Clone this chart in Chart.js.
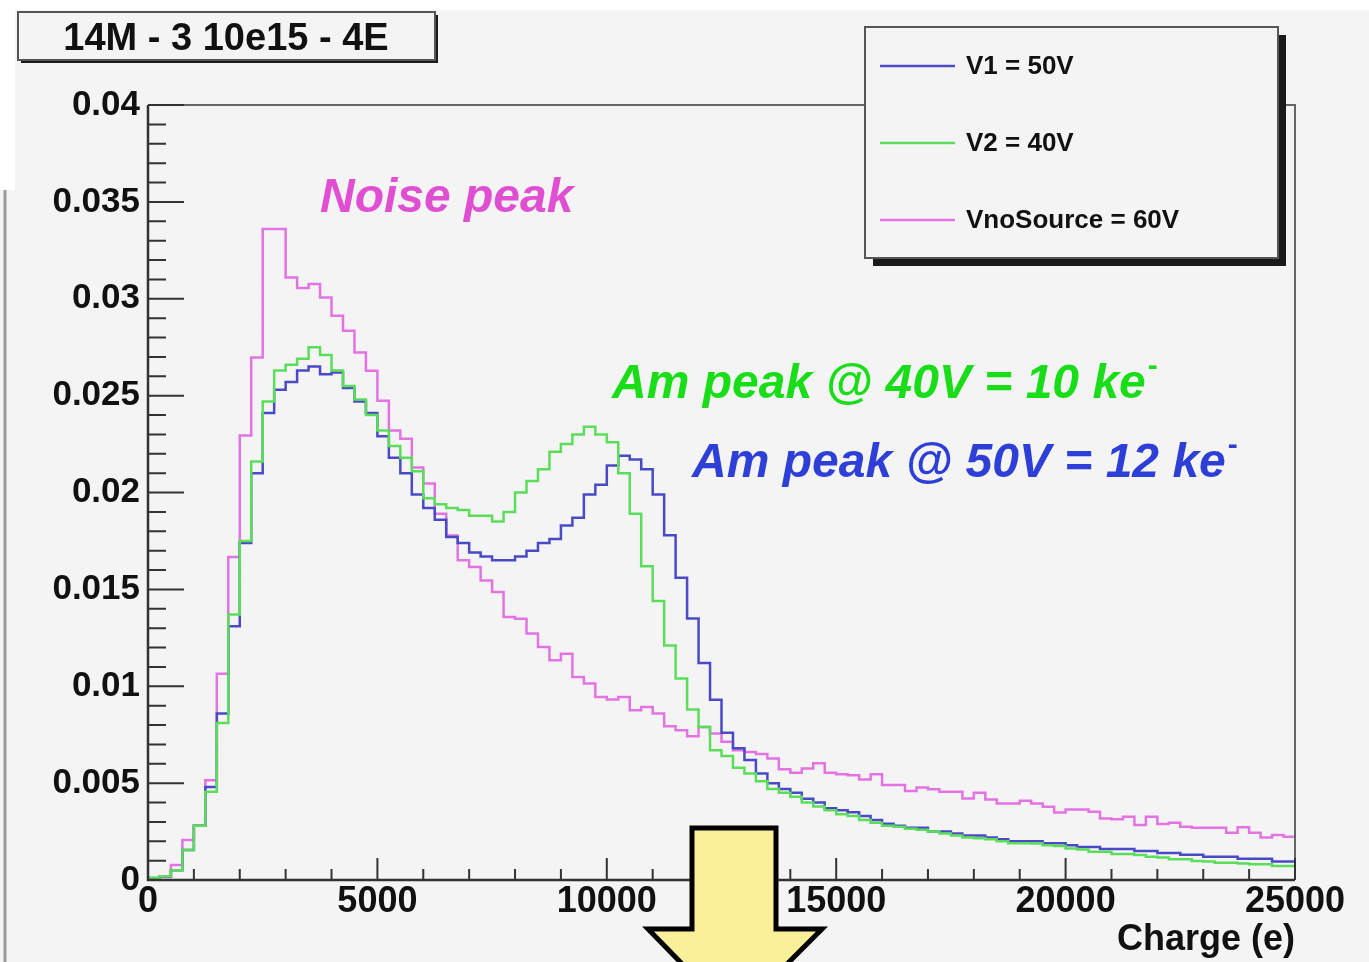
<!DOCTYPE html>
<html>
<head>
<meta charset="utf-8">
<title>14M - 3 10e15 - 4E</title>
<script src="https://cdn.jsdelivr.net/npm/chart.js@4/dist/chart.umd.min.js"></script>
<style>
  html, body { margin: 0; padding: 0; background: #f4f4f4; }
  #wrap { width: 1369px; height: 962px; position: relative; }
</style>
</head>
<body>
<div id="wrap"><canvas id="chargeChart"></canvas></div>
<script>
// Charge spectra, 100 bins of 250 e from 0 to 25000 e
const binWidth = 250;
const xRange = [0, 25000];
const yRange = [0, 0.04];

const seriesLabels = ['V1 = 50V', 'V2 = 40V', 'VnoSource = 60V'];

const v1Values = [
    0.0001, 0.0002, 0.0005, 0.00155, 0.0028, 0.0048, 0.0086, 0.0131, 0.0174, 0.0210,
    0.0241, 0.0253, 0.0257, 0.0263, 0.0265, 0.0261, 0.0262, 0.0254, 0.0247, 0.0241,
    0.0229, 0.0218, 0.0210, 0.0199, 0.0192, 0.0186, 0.0177, 0.0174, 0.0169, 0.0167,
    0.0165, 0.0165, 0.0167, 0.0170, 0.0174, 0.0176, 0.0183, 0.0187, 0.0199, 0.0204,
    0.0214, 0.0219, 0.0217, 0.0212, 0.0199, 0.0178, 0.0156, 0.0135, 0.0112, 0.0093,
    0.0076, 0.0068, 0.0062, 0.0055, 0.0050, 0.0047, 0.0045, 0.0042, 0.0040, 0.0037,
    0.0036, 0.0035, 0.0033, 0.0031, 0.0029, 0.0028, 0.0027, 0.0027, 0.0025, 0.0025,
    0.0024, 0.0023, 0.0023, 0.0022, 0.0021, 0.0020, 0.0020, 0.0020, 0.0019, 0.0019,
    0.0018, 0.0017, 0.0017, 0.0016, 0.0016, 0.0016, 0.0015, 0.0015, 0.0014, 0.0014,
    0.0013, 0.0013, 0.0012, 0.0012, 0.0012, 0.0011, 0.0011, 0.0011, 0.00095, 0.00095
];

const v2Values = [
    0.0001, 0.0002, 0.0005, 0.00155, 0.0028, 0.00455, 0.0081, 0.0137, 0.0175, 0.0216,
    0.0247, 0.0263, 0.0266, 0.0269, 0.0275, 0.0271, 0.0263, 0.0255, 0.0248, 0.0240,
    0.0232, 0.0224, 0.0218, 0.0211, 0.0197, 0.0194, 0.0192, 0.0191, 0.0188, 0.0188,
    0.0185, 0.0190, 0.0200, 0.0206, 0.0212, 0.0221, 0.0225, 0.0230, 0.0234, 0.0230,
    0.0226, 0.0210, 0.0189, 0.0162, 0.0144, 0.0121, 0.0104, 0.0088, 0.0079, 0.0067,
    0.0064, 0.0058, 0.0055, 0.0051, 0.0047, 0.0045, 0.0043, 0.0040, 0.0038, 0.0036,
    0.0034, 0.0033, 0.0031, 0.00295, 0.0028, 0.00275, 0.00265, 0.0026, 0.0025, 0.0024,
    0.0023, 0.0022, 0.00215, 0.0021, 0.0020, 0.0019, 0.0019, 0.00188, 0.0018, 0.00175,
    0.00163, 0.00157, 0.00146, 0.00146, 0.00134, 0.00134, 0.00129, 0.0012, 0.00116, 0.00107,
    0.00107, 0.00098, 0.00095, 0.00089, 0.00089, 0.00085, 0.00081, 0.00081, 0.00072, 0.00072
];

const noSourceValues = [
    0.0, 0.00015, 0.00077, 0.00206, 0.0028, 0.00515, 0.01065, 0.01667, 0.02294, 0.02697,
    0.0336, 0.0336, 0.0311, 0.03055, 0.03076, 0.03007, 0.02912, 0.02835, 0.02723, 0.02629,
    0.02474, 0.0232, 0.02278, 0.02129, 0.02046, 0.0189, 0.01778, 0.0165, 0.01615, 0.01546,
    0.01486, 0.01357, 0.01349, 0.01272, 0.01203, 0.01134, 0.01168, 0.01048, 0.01014, 0.00945,
    0.00931, 0.00945, 0.00876, 0.00893, 0.00859, 0.00794, 0.00773, 0.00742, 0.0079, 0.00756,
    0.00713, 0.0067, 0.00661, 0.0065, 0.00627, 0.00571, 0.00553, 0.00576, 0.00602, 0.00553,
    0.00546, 0.00541, 0.00519, 0.00546, 0.0049, 0.0049, 0.0046, 0.00478, 0.00468, 0.00455,
    0.00455, 0.00421, 0.0045, 0.00416, 0.00395, 0.00395, 0.00409, 0.00395, 0.00378, 0.00349,
    0.00364, 0.00364, 0.00352, 0.00318, 0.00313, 0.00326, 0.00284, 0.00326, 0.00289, 0.00295,
    0.00275, 0.0027, 0.0027, 0.0027, 0.00244, 0.00272, 0.00244, 0.0022, 0.00232, 0.00223
];

const FONT = '"Liberation Sans", Arial, Helvetica, sans-serif';

// histogram outline: one point per bin low edge, plus the closing edge
function histPoints(values) {
    const pts = values.map((v, i) => ({ x: i * binWidth, y: v }));
    pts.push({ x: values.length * binWidth, y: values[values.length - 1] });
    return pts;
}

function drawBox(c, x, y, w, h, shadow) {
    c.fillStyle = '#1a1a1a';
    c.fillRect(x + shadow, y + shadow, w, h);
    c.fillStyle = '#f4f4f4';
    c.fillRect(x, y, w, h);
    c.strokeStyle = '#555';
    c.lineWidth = 2;
    c.strokeRect(x, y, w, h);
}

function drawNote(c, text, x, y, color, withMinus) {
    c.font = 'italic bold 48px ' + FONT;
    c.fillStyle = color;
    c.textAlign = 'left';
    c.textBaseline = 'alphabetic';
    c.fillText(text, x, y);
    if (withMinus) {
        const w = c.measureText(text).width;
        c.font = 'bold 30px ' + FONT;
        c.fillText('-', x + w + 2, y - 23);
    }
}

const rootStyle = {
    id: 'rootStyle',
    beforeDraw(chart) {
        const c = chart.ctx;
        c.save();
        c.fillStyle = '#f4f4f4';
        c.fillRect(0, 0, chart.width, chart.height);
        c.fillStyle = '#ffffff';
        c.fillRect(0, 0, chart.width, 10);
        c.fillRect(0, 0, 15, 190);
        c.strokeStyle = '#9a9a9a';
        c.lineWidth = 3;
        c.beginPath();
        c.moveTo(5, 190);
        c.lineTo(5, chart.height);
        c.stroke();
        c.restore();
    },
    afterDatasetsDraw(chart) {
        const c = chart.ctx;
        const a = chart.chartArea;
        const x = chart.scales.x;
        const y = chart.scales.y;
        c.save();
        // frame
        c.strokeStyle = '#666';
        c.lineWidth = 2;
        c.beginPath();
        c.moveTo(a.left, a.top);
        c.lineTo(a.right, a.top);
        c.lineTo(a.right, a.bottom);
        c.stroke();
        c.strokeStyle = '#333';
        c.lineWidth = 2.5;
        c.beginPath();
        c.moveTo(a.left, a.top);
        c.lineTo(a.left, a.bottom);
        c.lineTo(a.right, a.bottom);
        c.stroke();
        // ROOT style ticks, pointing into the pad
        c.lineWidth = 2;
        c.beginPath();
        for (let k = 0; k <= 40; k++) {
            const py = y.getPixelForValue(k * 0.001);
            const len = k % 5 === 0 ? 36 : 18;
            c.moveTo(a.left, py);
            c.lineTo(a.left + len, py);
        }
        for (let k = 0; k <= 25; k++) {
            const px = x.getPixelForValue(k * 1000);
            const len = k % 5 === 0 ? 22 : 11;
            c.moveTo(px, a.bottom);
            c.lineTo(px, a.bottom - len);
        }
        c.stroke();
        c.restore();
    },
    afterDraw(chart) {
        const c = chart.ctx;
        c.save();

        // pad title
        drawBox(c, 18, 12, 417, 48, 3);
        c.fillStyle = '#111';
        c.font = 'bold 38px ' + FONT;
        c.textAlign = 'center';
        c.textBaseline = 'alphabetic';
        c.fillText('14M - 3 10e15 - 4E', 226, 50);

        // notes
        drawNote(c, 'Noise peak', 320, 212, '#e04ed2', false);
        drawNote(c, 'Am peak @ 40V = 10 ke', 612, 398, '#18dd18', true);
        drawNote(c, 'Am peak @ 50V = 12 ke', 692, 477, '#2d3fd6', true);

        // legend
        drawBox(c, 865, 27, 413, 231, 8);
        const rows = [66, 143, 220];
        chart.data.datasets.forEach((ds, i) => {
            c.strokeStyle = ds.borderColor;
            c.lineWidth = 2.5;
            c.beginPath();
            c.moveTo(880, rows[i]);
            c.lineTo(955, rows[i]);
            c.stroke();
            c.fillStyle = '#111';
            c.font = 'bold 26px ' + FONT;
            c.textAlign = 'left';
            c.textBaseline = 'middle';
            c.fillText(ds.label, 966, rows[i] + 1);
        });

        // yellow arrow
        c.beginPath();
        c.moveTo(692, 828);
        c.lineTo(776, 828);
        c.lineTo(776, 929);
        c.lineTo(822, 929);
        c.lineTo(734, 1017);
        c.lineTo(648, 929);
        c.lineTo(692, 929);
        c.closePath();
        c.fillStyle = '#faf09a';
        c.fill();
        c.strokeStyle = '#000';
        c.lineWidth = 5;
        c.lineJoin = 'miter';
        c.stroke();

        c.restore();
    }
};

document.addEventListener('DOMContentLoaded', function() {
    const chargeCtx = document.getElementById('chargeChart');

    new Chart(chargeCtx, {
        type: 'line',
        data: {
            datasets: [
                { label: seriesLabels[0], data: histPoints(v1Values), borderColor: '#4a4ac6', order: 1 },
                { label: seriesLabels[1], data: histPoints(v2Values), borderColor: '#5ade5a', order: 0 },
                { label: seriesLabels[2], data: histPoints(noSourceValues), borderColor: '#e373e3', order: 2 }
            ]
        },
        options: {
            responsive: true,
            maintainAspectRatio: false,
            animation: false,
            parsing: false,
            datasets: {
                line: {
                    stepped: 'before',
                    borderWidth: 2.5,
                    pointRadius: 0,
                    fill: false,
                    tension: 0
                }
            },
            layout: { padding: { left: 0, right: 74, top: 105, bottom: 0 } },
            plugins: {
                legend: { display: false },
                tooltip: { enabled: false },
                title: { display: false }
            },
            scales: {
                x: {
                    type: 'linear',
                    min: xRange[0],
                    max: xRange[1],
                    grid: { display: false, drawTicks: false },
                    border: { display: false },
                    ticks: {
                        stepSize: 5000,
                        maxRotation: 0,
                        autoSkip: false,
                        padding: 0,
                        color: '#111',
                        font: { family: FONT, size: 36, weight: 'bold' },
                        callback: v => String(v)
                    },
                    title: {
                        display: true,
                        text: 'Charge (e)',
                        align: 'end',
                        color: '#111',
                        padding: 0,
                        font: { family: FONT, size: 36, weight: 'bold' }
                    },
                    afterFit: s => { s.height = 82; }
                },
                y: {
                    min: yRange[0],
                    max: yRange[1],
                    grid: { display: false, drawTicks: false },
                    border: { display: false },
                    ticks: {
                        stepSize: 0.005,
                        autoSkip: false,
                        padding: 8,
                        color: '#111',
                        font: { family: FONT, size: 35, weight: 'bold' },
                        callback: v => (v === 0 ? '0' : String(+v.toFixed(3)))
                    },
                    afterFit: s => { s.width = 148; }
                }
            }
        },
        plugins: [rootStyle]
    });
});
</script>
</body>
</html>
